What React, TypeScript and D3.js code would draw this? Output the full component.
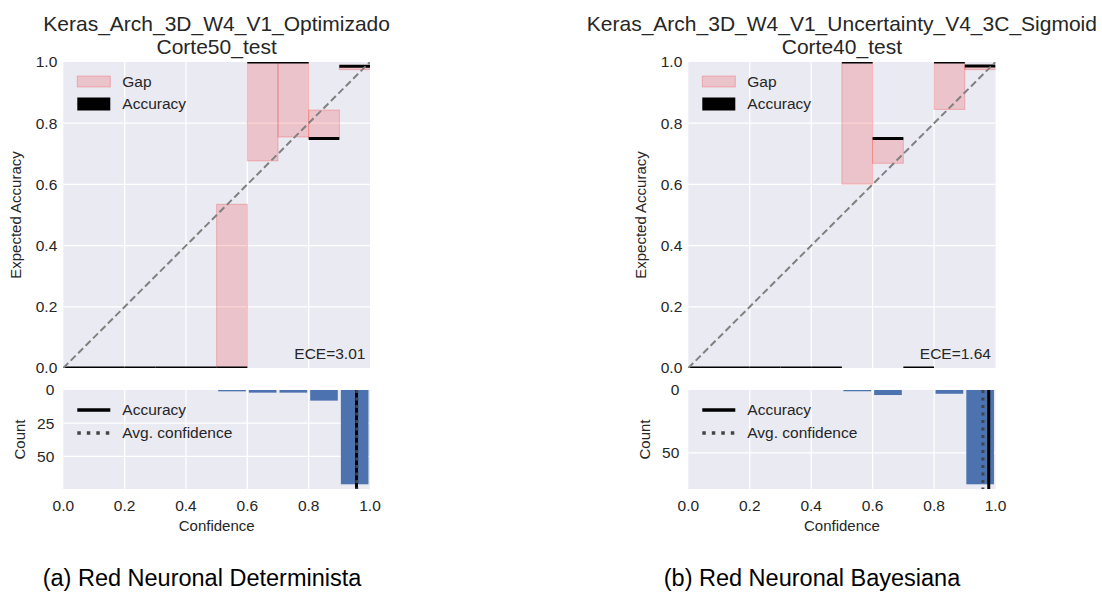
import React, { useRef, useEffect } from 'react';
import * as d3 from 'd3';

// bin lower edges (bin size 0.1)
const binStarts = [0, 0.1, 0.2, 0.3, 0.4, 0.5, 0.6, 0.7, 0.8, 0.9];

// (a) deterministic network
const detTitle = ['Keras_Arch_3D_W4_V1_Optimizado', 'Corte50_test'];
const detAcc = [0, 0, 0, 0, 0, 0, 1, 1, 0.75, 0.986];
const detConf = [0, 0, 0, 0, 0, 0.535, 0.677, 0.755, 0.843, 0.975];
const detCounts = [0, 0, 0, 0, 0, 1, 2, 2, 8, 71];
const detAvgAcc = 0.956;
const detAvgConf = 0.957;
const detEce = 'ECE=3.01';
const detCountTicks = [0, 25, 50];
const detCaption = '(a) Red Neuronal Determinista';

// (b) bayesian network
const bayTitle = ['Keras_Arch_3D_W4_V1_Uncertainty_V4_3C_Sigmoid', 'Corte40_test'];
const bayAcc = [0, 0, 0, 0, 0, 1, 0.75, 0, 1, 0.987];
const bayConf = [0, 0, 0, 0, 0, 0.601, 0.669, 0, 0.845, 0.975];
const bayCounts = [0, 0, 0, 0, 0, 1, 4, 0, 3, 75];
const bayAvgAcc = 0.978;
const bayAvgConf = 0.959;
const bayEce = 'ECE=1.64';
const bayCountTicks = [0, 50];
const bayCaption = '(b) Red Neuronal Bayesiana';

const accTicks = [0, 0.2, 0.4, 0.6, 0.8, 1.0];
const confTicks = [0, 0.2, 0.4, 0.6, 0.8, 1.0];

const FONT = '"Liberation Sans", Arial, sans-serif';
const BG = '#EAEAF2';
const TXT = '#262626';

const drawPanel = (svg, p) => {
  const { x0, x1, clipId } = p;
  const top = { y0: 62, y1: 368 };
  const bot = { y0: 390, y1: 489 };
  const binSize = 0.1;

  const x = d3.scaleLinear().domain([0, 1]).range([x0, x1]);
  const y = d3.scaleLinear().domain([0, 1]).range([top.y1, top.y0]);
  const maxCount = d3.max(p.counts) * 1.05;
  const yc = d3.scaleLinear().domain([0, maxCount]).range([bot.y0, bot.y1]);

  const g = svg.append('g').style('font-family', FONT);

  // clip paths
  const defs = svg.append('defs');
  defs.append('clipPath').attr('id', clipId + 't')
    .append('rect').attr('x', x0).attr('y', top.y0).attr('width', x1 - x0).attr('height', top.y1 - top.y0);
  defs.append('clipPath').attr('id', clipId + 'b')
    .append('rect').attr('x', x0).attr('y', bot.y0).attr('width', x1 - x0).attr('height', bot.y1 - bot.y0);

  // ---------- top: reliability diagram ----------
  g.append('rect').attr('x', x0).attr('y', top.y0).attr('width', x1 - x0).attr('height', top.y1 - top.y0).attr('fill', BG);
  const gridT = g.append('g');
  confTicks.slice(1, -1).forEach((t) => {
    gridT.append('line').attr('x1', x(t)).attr('x2', x(t)).attr('y1', top.y0).attr('y2', top.y1)
      .attr('stroke', '#fff').attr('stroke-width', 1.3);
  });
  accTicks.slice(1, -1).forEach((t) => {
    gridT.append('line').attr('x1', x0).attr('x2', x1).attr('y1', y(t)).attr('y2', y(t))
      .attr('stroke', '#fff').attr('stroke-width', 1.3);
  });

  const plotT = g.append('g').attr('clip-path', `url(#${clipId}t)`);
  // gap bars
  plotT.selectAll('rect.gap')
    .data(binStarts.map((b, i) => ({ b, acc: p.acc[i], conf: p.conf[i] })))
    .enter().append('rect')
    .attr('class', 'gap')
    .attr('x', (d) => x(d.b))
    .attr('width', (d) => x(d.b + binSize) - x(d.b))
    .attr('y', (d) => y(Math.max(d.acc, d.conf)))
    .attr('height', (d) => y(Math.min(d.acc, d.conf)) - y(Math.max(d.acc, d.conf)))
    .attr('fill', 'rgba(240,60,60,0.22)')
    .attr('stroke', 'rgba(240,60,60,0.3)')
    .attr('stroke-width', 1);

  // accuracy lines
  plotT.selectAll('line.acc')
    .data(binStarts.map((b, i) => ({ b, acc: p.acc[i] })))
    .enter().append('line')
    .attr('x1', (d) => x(d.b))
    .attr('x2', (d) => x(d.b + binSize))
    .attr('y1', (d) => y(d.acc))
    .attr('y2', (d) => y(d.acc))
    .attr('stroke', '#000')
    .attr('stroke-width', 3);

  // diagonal
  plotT.append('line')
    .attr('x1', x(0)).attr('y1', y(0)).attr('x2', x(1)).attr('y2', y(1))
    .attr('stroke', 'gray').attr('stroke-width', 2).attr('stroke-dasharray', '7,3.5');

  // y ticks
  accTicks.forEach((t) => {
    g.append('text').attr('x', x0 - 6).attr('y', y(t)).attr('dy', '0.35em')
      .attr('text-anchor', 'end').attr('font-size', 15.5).attr('fill', TXT).text(d3.format('.1f')(t));
  });
  g.append('text')
    .attr('transform', `translate(${x0 - 42},${(top.y0 + top.y1) / 2}) rotate(-90)`)
    .attr('text-anchor', 'middle').attr('font-size', 15).attr('fill', TXT).text('Expected Accuracy');

  // ECE
  g.append('text').attr('x', x0 + (x1 - x0) * 0.985).attr('y', 359)
    .attr('text-anchor', 'end').attr('font-size', 15.5).attr('fill', TXT).text(p.ece);

  // title
  p.title.forEach((line, i) => {
    g.append('text').attr('x', (x0 + x1) / 2).attr('y', 31 + i * 23)
      .attr('text-anchor', 'middle').attr('font-size', 21).attr('fill', TXT).text(line);
  });

  // legend (top)
  const lx = x0 + 14;
  g.append('rect').attr('x', lx).attr('y', 76).attr('width', 33).attr('height', 11)
    .attr('fill', 'rgba(240,60,60,0.22)').attr('stroke', 'rgba(240,60,60,0.3)');
  g.append('text').attr('x', lx + 45).attr('y', 82).attr('dy', '0.35em').attr('font-size', 15.5).attr('fill', TXT).text('Gap');
  g.append('rect').attr('x', lx).attr('y', 97.5).attr('width', 33).attr('height', 13).attr('fill', '#000');
  g.append('text').attr('x', lx + 45).attr('y', 104).attr('dy', '0.35em').attr('font-size', 15.5).attr('fill', TXT).text('Accuracy');

  // ---------- bottom: confidence histogram ----------
  g.append('rect').attr('x', x0).attr('y', bot.y0).attr('width', x1 - x0).attr('height', bot.y1 - bot.y0).attr('fill', BG);
  confTicks.slice(1, -1).forEach((t) => {
    g.append('line').attr('x1', x(t)).attr('x2', x(t)).attr('y1', bot.y0).attr('y2', bot.y1)
      .attr('stroke', '#fff').attr('stroke-width', 1.3);
  });
  p.countTicks.slice(1).forEach((t) => {
    g.append('line').attr('x1', x0).attr('x2', x1).attr('y1', yc(t)).attr('y2', yc(t))
      .attr('stroke', '#fff').attr('stroke-width', 1.3);
  });

  const plotB = g.append('g').attr('clip-path', `url(#${clipId}b)`);
  plotB.selectAll('rect.cnt')
    .data(binStarts.map((b, i) => ({ b, c: p.counts[i] })).filter((d) => d.c > 0))
    .enter().append('rect')
    .attr('x', (d) => x(d.b + binSize * 0.05))
    .attr('width', (d) => x(d.b + binSize * 0.95) - x(d.b + binSize * 0.05))
    .attr('y', yc(0))
    .attr('height', (d) => yc(d.c) - yc(0))
    .attr('fill', '#4C72B0');

  plotB.append('line').attr('x1', x(p.avgAcc)).attr('x2', x(p.avgAcc)).attr('y1', bot.y0).attr('y2', bot.y1)
    .attr('stroke', '#000').attr('stroke-width', 3);
  plotB.append('line').attr('x1', x(p.avgConf)).attr('x2', x(p.avgConf)).attr('y1', bot.y0).attr('y2', bot.y1)
    .attr('stroke', '#444').attr('stroke-width', 3).attr('stroke-dasharray', '3,4.5');

  p.countTicks.forEach((t) => {
    g.append('text').attr('x', x0 - 9).attr('y', yc(t)).attr('dy', '0.35em')
      .attr('text-anchor', 'end').attr('font-size', 15.5).attr('fill', TXT).text(t);
  });
  g.append('text')
    .attr('transform', `translate(${x0 - 38},${(bot.y0 + bot.y1) / 2}) rotate(-90)`)
    .attr('text-anchor', 'middle').attr('font-size', 15).attr('fill', TXT).text('Count');

  confTicks.forEach((t) => {
    g.append('text').attr('x', x(t)).attr('y', 511)
      .attr('text-anchor', 'middle').attr('font-size', 15.5).attr('fill', TXT).text(d3.format('.1f')(t));
  });
  g.append('text').attr('x', (x0 + x1) / 2).attr('y', 531)
    .attr('text-anchor', 'middle').attr('font-size', 15).attr('fill', TXT).text('Confidence');

  // legend (bottom)
  g.append('line').attr('x1', lx).attr('x2', lx + 33).attr('y1', 410).attr('y2', 410)
    .attr('stroke', '#000').attr('stroke-width', 3.5);
  g.append('text').attr('x', lx + 45).attr('y', 410).attr('dy', '0.35em').attr('font-size', 15.5).attr('fill', TXT).text('Accuracy');
  g.append('line').attr('x1', lx).attr('x2', lx + 33).attr('y1', 433).attr('y2', 433)
    .attr('stroke', '#444').attr('stroke-width', 3.5).attr('stroke-dasharray', '3.5,6');
  g.append('text').attr('x', lx + 45).attr('y', 433).attr('dy', '0.35em').attr('font-size', 15.5).attr('fill', TXT).text('Avg. confidence');

  // caption
  svg.append('text').attr('x', p.captionX).attr('y', 586).attr('text-anchor', 'middle')
    .style('font-family', FONT).attr('font-size', 23.5).attr('fill', '#000').text(p.caption);
};

const App = () => {
  const svgRef = useRef(null);

  useEffect(() => {
    const svg = d3.select(svgRef.current);
    svg.selectAll('*').remove();

    drawPanel(svg, {
      x0: 63.3, x1: 370, clipId: 'cl',
      title: detTitle, acc: detAcc, conf: detConf, counts: detCounts,
      avgAcc: detAvgAcc, avgConf: detAvgConf, ece: detEce, countTicks: detCountTicks,
      caption: detCaption, captionX: 202,
    });
    drawPanel(svg, {
      x0: 688.3, x1: 995.5, clipId: 'cr',
      title: bayTitle, acc: bayAcc, conf: bayConf, counts: bayCounts,
      avgAcc: bayAvgAcc, avgConf: bayAvgConf, ece: bayEce, countTicks: bayCountTicks,
      caption: bayCaption, captionX: 812,
    });
  }, []);

  return (
    <svg ref={svgRef} width={1102} height={592}
      style={{ position: 'absolute', left: 0, top: 0, background: '#fff' }} />
  );
};

export default App;
